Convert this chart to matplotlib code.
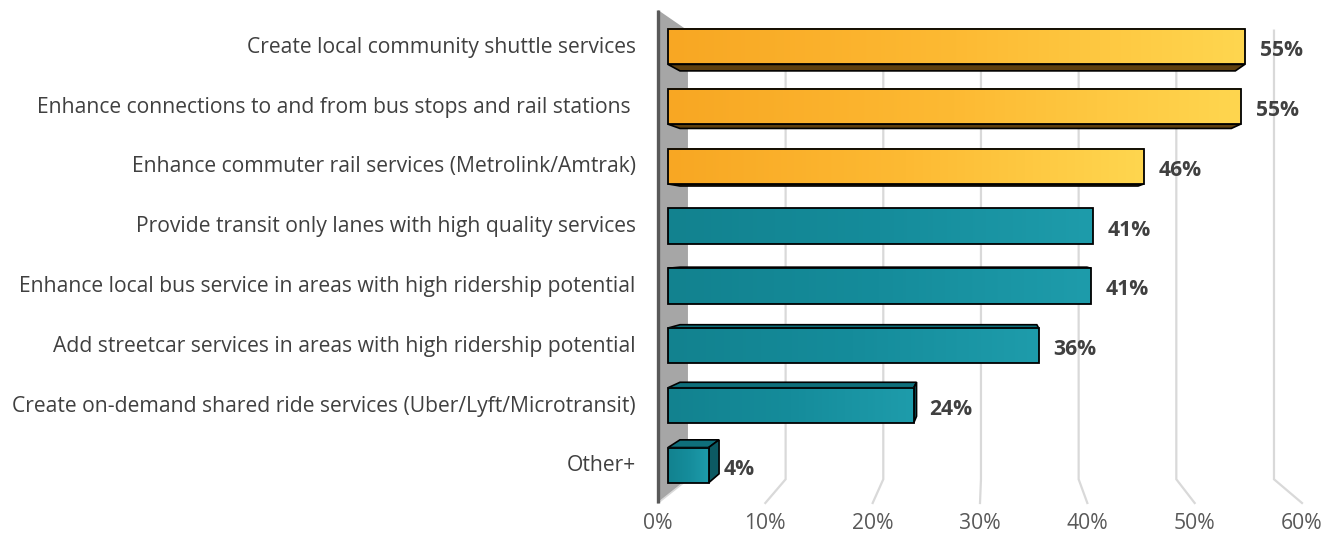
import numpy as np
import matplotlib.pyplot as plt
from matplotlib.patches import Polygon
from matplotlib.colors import LinearSegmentedColormap

plt.rcParams['font.family'] = ['Open Sans', 'DejaVu Sans']

categories = [
    "Create local community shuttle services",
    "Enhance connections to and from bus stops and rail stations ",
    "Enhance commuter rail services (Metrolink/Amtrak)",
    "Provide transit only lanes with high quality services",
    "Enhance local bus service in areas with high ridership potential",
    "Add streetcar services in areas with high ridership potential",
    "Create on-demand shared ride services (Uber/Lyft/Microtransit)",
    "Other+",
]
values = [55.4, 55.0, 45.7, 40.8, 40.6, 35.6, 23.6, 3.9]
highlight = [True, True, True, False, False, False, False, False]
x_ticks = [0, 10, 20, 30, 40, 50, 60]

# colours
orange_grad = LinearSegmentedColormap.from_list("og", ["#F8A723", "#FDBA33", "#FFD64F"])
teal_grad = LinearSegmentedColormap.from_list("tg", ["#12828F", "#158C9B", "#1E9CAB"])
orange_dark = "#5E4010"
teal_top = "#0F6F7B"
teal_side = "#0C5A63"

# simple one point perspective, in data units of the front plane
VPX, VPY = 31.0, 3.22
K_FRONT, K_BACK, K_WALL = 0.97, 0.934, 0.91
H = 0.295


def proj(x, y, k):
    return VPX + (x - VPX) * k, VPY + (y - VPY) * k


fig = plt.figure(figsize=(13.35, 5.44), dpi=100)
W, HT = 1335, 544
ax = fig.add_axes([658 / W, (HT - 503) / HT, (1302 - 658) / W, 493 / HT])
for s in ax.spines.values():
    s.set_visible(False)

# back wall gridlines + floor part
for t in x_ticks[1:]:
    p1 = proj(t, -0.5, K_WALL)
    p2 = proj(t, 7.5, K_WALL)
    p3 = proj(t, 7.5, 1.0)
    ax.plot([p1[0], p2[0], p3[0]], [p1[1], p2[1], p3[1]], color="#D9D9D9",
            lw=1.6, zorder=1, clip_on=False, solid_joinstyle="miter")

# left side wall
wall = [proj(0, -0.5, 1.0), proj(0, -0.5, K_WALL), proj(0, 7.5, K_WALL), proj(0, 7.5, 1.0)]
ax.add_patch(Polygon(wall, closed=True, fc="#A6A6A6", ec="none", zorder=1.5, clip_on=False))
ax.plot([wall[2][0], wall[3][0]], [wall[2][1], wall[3][1]], color="#D9D9D9", lw=1.2,
        zorder=1.6, clip_on=False)
ax.plot([0, 0], [-0.5, 7.5], color="#595959", lw=2.4, zorder=1.7, clip_on=False,
        solid_capstyle="butt")

for i, (v, hl) in enumerate(zip(values, highlight)):
    top, bot = i - H, i + H
    cmap = orange_grad if hl else teal_grad
    side_col = orange_dark if hl else teal_side
    top_col = orange_dark if hl else teal_top

    # bottom face (above eye level)
    if bot < VPY:
        face = [proj(0, bot, K_FRONT), proj(v, bot, K_FRONT), proj(v, bot, K_BACK), proj(0, bot, K_BACK)]
        ax.add_patch(Polygon(face, closed=True, fc=side_col, ec="black", lw=1.2, zorder=2.5))
    # top face (below eye level)
    if top > VPY:
        face = [proj(0, top, K_FRONT), proj(v, top, K_FRONT), proj(v, top, K_BACK), proj(0, top, K_BACK)]
        ax.add_patch(Polygon(face, closed=True, fc=top_col, ec="black", lw=1.2, zorder=2.5))
    # right end face
    if v < VPX:
        face = [proj(v, top, K_FRONT), proj(v, bot, K_FRONT), proj(v, bot, K_BACK), proj(v, top, K_BACK)]
        ax.add_patch(Polygon(face, closed=True, fc=side_col, ec="black", lw=1.2, zorder=2.5))

    # front face with gradient
    x0, y0 = proj(0, top, K_FRONT)
    x1, y1 = proj(v, bot, K_FRONT)
    ax.imshow(np.linspace(0, 1, 256)[None, :], cmap=cmap, extent=[x0, x1, y1, y0],
              aspect="auto", zorder=3, interpolation="bilinear")
    ax.add_patch(Polygon([(x0, y0), (x1, y0), (x1, y1), (x0, y1)], closed=True,
                         fill=False, ec="black", lw=1.3, zorder=3.5))

    lx, ly = proj(v, i, K_FRONT)
    ax.annotate(f"{v:.0f}%", xy=(lx, ly), xytext=(15, -4), textcoords="offset pixels",
                ha="left", va="center", fontsize=15.2, fontweight="bold", color="#404040")

ax.set_xlim(0, 60)
ax.set_ylim(7.5, -0.5)

ax.set_xticks(x_ticks, [f"{t}%" for t in x_ticks])
ax.set_yticks([proj(0, i, K_FRONT)[1] - 0.03 for i in range(len(categories))], categories)
ax.tick_params(axis="x", length=0, pad=7, labelsize=15.2, labelcolor="#595959")
ax.tick_params(axis="y", length=0, pad=16, labelsize=15.2, labelcolor="#404040")

fig.savefig("out.png", dpi=100)
